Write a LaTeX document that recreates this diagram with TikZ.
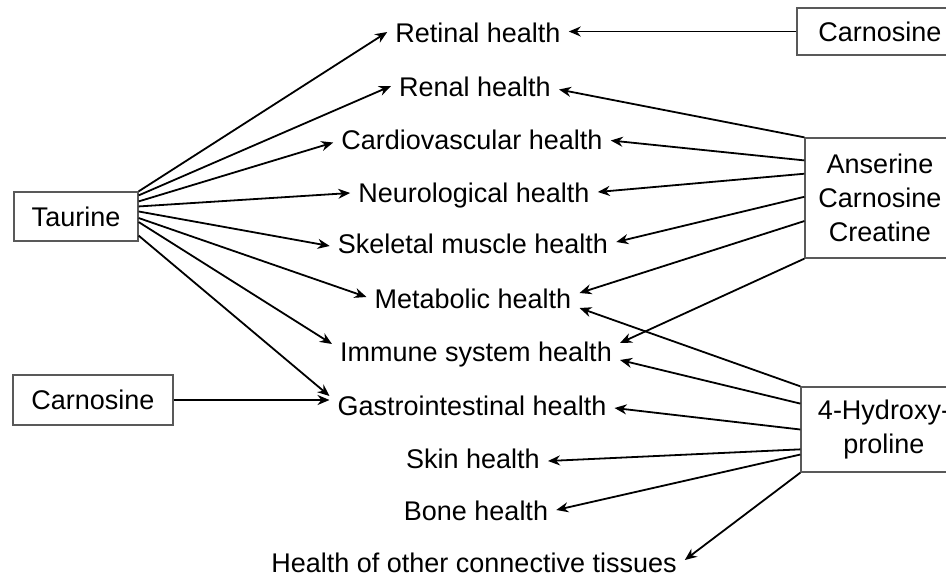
\documentclass[tikz,border=0pt]{standalone}
\usepackage{fontspec}
\setmainfont{Liberation Sans}
\usetikzlibrary{arrows.meta, positioning, calc}

\begin{document}
\begin{tikzpicture}[
    x=1pt, y=-1pt,
    srcbox/.style={draw=black!65, line width=1.3pt, font=\fontsize{27}{34}\selectfont, align=center, inner sep=0pt},
    outcome/.style={font=\fontsize{27}{34}\selectfont, inner xsep=8pt, inner ysep=0pt, text height=20pt, text depth=6pt},
    link/.style={line width=1.8pt, -{Stealth[length=12pt, width=10pt]}}
]
    \clip (0,0) rectangle (946,579);

    % sources
    \node[srcbox, minimum width=124pt, minimum height=49pt] (taurine) at (76, 216.5) {Taurine};
    \node[srcbox, minimum width=160pt, minimum height=50pt] (carnleft) at (93, 400) {Carnosine};
    \node[srcbox, minimum width=166pt, minimum height=47pt] (carntop) at (880, 31.5) {Carnosine};
    \node[srcbox, minimum width=150pt, minimum height=120pt] (anser) at (880, 198) {Anserine\\Carnosine\\Creatine};
    \node[srcbox, minimum width=166pt, minimum height=85pt] (hydroxy) at (884, 429.5) {4-Hydroxy-\\proline};

    % health outcomes
    \node[outcome] (retinal) at (478, 35) {Retinal health};
    \node[outcome] (renal) at (475, 89.5) {Renal health};
    \node[outcome] (cardio) at (472, 142.5) {Cardiovascular health};
    \node[outcome] (neuro) at (474, 195) {Neurological health};
    \node[outcome] (skeletal) at (473, 246) {Skeletal muscle health};
    \node[outcome] (metab) at (473, 301) {Metabolic health};
    \node[outcome] (immune) at (476, 354) {Immune system health};
    \node[outcome] (gastro) at (472, 408) {Gastrointestinal health};
    \node[outcome] (skin) at (473, 461) {Skin health};
    \node[outcome] (bone) at (476, 513) {Bone health};
    \node[outcome] (other) at (474, 565) {Health of other connective tissues};

    % taurine
    \draw[link] (taurine.north east) -- ([yshift=3pt]retinal.west);
    \draw[link] ($(taurine.north east)!0.08!(taurine.south east)$) -- ([yshift=3.5pt]renal.west);
    \draw[link] ($(taurine.north east)!0.2!(taurine.south east)$) -- (cardio.west);
    \draw[link] ($(taurine.north east)!0.3!(taurine.south east)$) -- ([yshift=2pt]neuro.west);
    \draw[link] ($(taurine.north east)!0.4!(taurine.south east)$) -- (skeletal.west);
    \draw[link] ($(taurine.north east)!0.53!(taurine.south east)$) -- ([yshift=4pt]metab.west);
    \draw[link] ($(taurine.north east)!0.61!(taurine.south east)$) -- ([yshift=10pt]immune.west);
    \draw[link] ($(taurine.north east)!0.88!(taurine.south east)$) -- ([yshift=12pt]gastro.west);

    % carnosine
    \draw[link] (carnleft.east) -- (carnleft.east -| gastro.west);
    \draw[link] (carntop.west) -- (carntop.west -| retinal.east);

    % anserine, carnosine, creatine
    \draw[link] (anser.north west) -- (renal.east);
    \draw[link] ($(anser.north west)!0.19!(anser.south west)$) -- ([yshift=2pt]cardio.east);
    \draw[link] ($(anser.north west)!0.3!(anser.south west)$) -- ([yshift=3pt]neuro.east);
    \draw[link] ($(anser.north west)!0.49!(anser.south west)$) -- ([yshift=4pt]skeletal.east);
    \draw[link] ($(anser.north west)!0.69!(anser.south west)$) -- ([yshift=8pt]metab.east);
    \draw[link] (anser.south west) -- ([yshift=11pt]immune.east);

    % 4-hydroxyproline
    \draw[link] (hydroxy.north west) -- ([yshift=-7pt]metab.east);
    \draw[link] ($(hydroxy.north west)!0.2!(hydroxy.south west)$) -- ([yshift=-6pt]immune.east);
    \draw[link] ($(hydroxy.north west)!0.5!(hydroxy.south west)$) -- (gastro.east);
    \draw[link] ($(hydroxy.north west)!0.73!(hydroxy.south west)$) -- (skin.east);
    \draw[link] ($(hydroxy.north west)!0.79!(hydroxy.south west)$) -- ([yshift=3pt]bone.east);
    \draw[link] (hydroxy.south west) -- ([yshift=5pt]other.east);
\end{tikzpicture}
\end{document}
